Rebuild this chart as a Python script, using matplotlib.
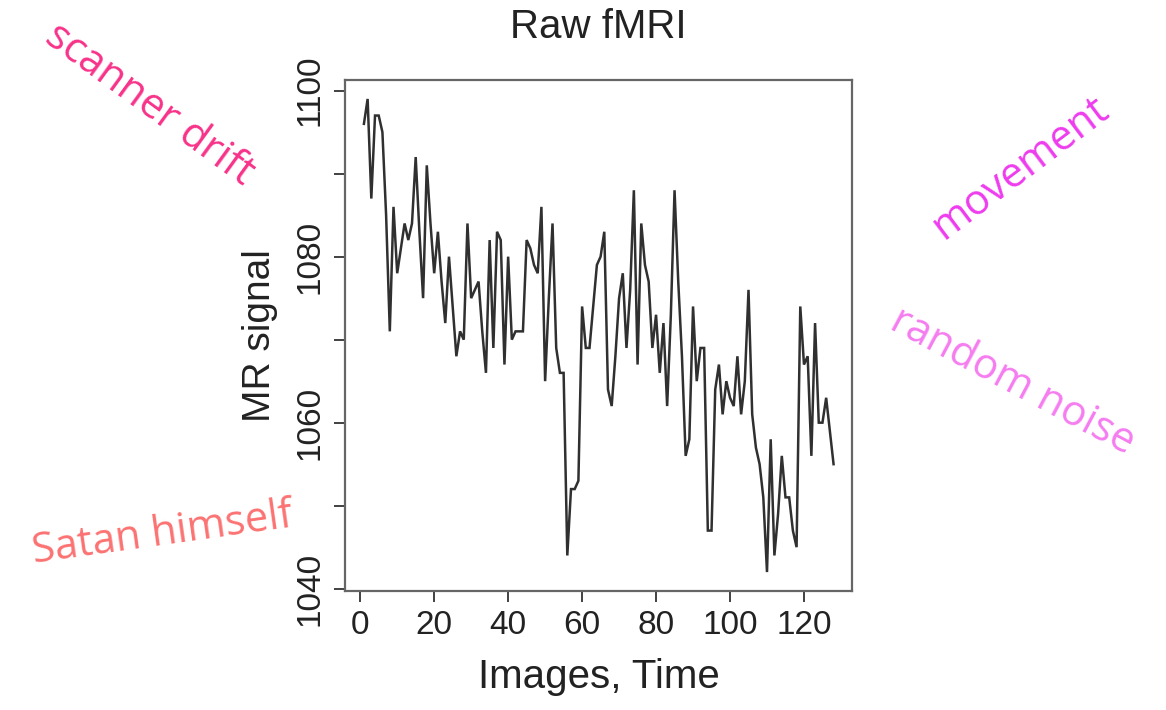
import numpy as np
import matplotlib
matplotlib.use("Agg")
import matplotlib.pyplot as plt

plt.rcParams['font.family'] = ['Liberation Sans', 'DejaVu Sans']

# Raw fMRI time course of a single voxel (one value per image)
signal = [
    1096, 1099, 1087, 1097, 1097, 1095, 1085, 1071, 1086, 1078,
    1081, 1084, 1082, 1084, 1092, 1083, 1075, 1091, 1084, 1078,
    1083, 1077, 1072, 1080, 1074, 1068, 1071, 1070, 1084, 1075,
    1076, 1077, 1071, 1066, 1082, 1069, 1083, 1082, 1067, 1080,
    1070, 1071, 1071, 1071, 1082, 1081, 1079, 1078, 1086, 1065,
    1075, 1084, 1069, 1066, 1066, 1044, 1052, 1052, 1053, 1074,
    1069, 1069, 1074, 1079, 1080, 1083, 1064, 1062, 1068, 1075,
    1078, 1069, 1076, 1088, 1067, 1084, 1079, 1077, 1069, 1073,
    1066, 1072, 1062, 1073, 1088, 1077, 1068, 1056, 1058, 1074,
    1065, 1069, 1069, 1047, 1047, 1064, 1067, 1061, 1065, 1063,
    1062, 1068, 1061, 1065, 1076, 1061, 1057, 1055, 1051, 1042,
    1058, 1044, 1049, 1056, 1051, 1051, 1047, 1045, 1074, 1067,
    1068, 1056, 1072, 1060, 1060, 1063, 1059, 1055,
]
images = np.arange(1, len(signal) + 1)

x_ticks = [0, 20, 40, 60, 80, 100, 120]
y_ticks_minor = [1040, 1050, 1060, 1070, 1080, 1090, 1100]
y_tick_labels = [1040, 1060, 1080, 1100]

title = "Raw fMRI"
x_label = "Images, Time"
y_label = "MR signal"

# Candidate noise sources written around the plot
notes = ["scanner drift", "movement", "random noise", "Satan himself"]
note_colors = ["#f7338a", "#ee3cee", "#f57cf0", "#fb7272"]
note_xy = [(0.128, 0.852), (0.875, 0.763), (0.868, 0.462), (0.139, 0.248)]
note_rot = [-36, 37, -28, 8]
note_size = [30, 30, 30, 30]

fig = plt.figure(figsize=(11.66, 7.10), dpi=100)
ax = fig.add_axes([0.296, 0.1676, 0.435, 0.7197])

ax.plot(images, signal, color="#303030", lw=1.8, solid_joinstyle="miter")

# R-style 4% padding around the data range
def padded(lo, hi, frac=0.04):
    r = hi - lo
    return lo - frac * r, hi + frac * r

ax.set_xlim(*padded(images.min(), images.max()))
ax.set_ylim(*padded(min(signal), max(signal)))

ax.set_xticks(x_ticks)
ax.set_xticklabels([str(v) for v in x_ticks])
ax.set_yticks(y_ticks_minor)
ax.set_yticklabels([str(v) if v in y_tick_labels else "" for v in y_ticks_minor],
                   rotation=90, va="center")

ax.tick_params(direction="out", length=8, width=1.3, color="#333333",
               labelsize=24, labelcolor="#222222", pad=6)
for s in ax.spines.values():
    s.set_color("#666666")
    s.set_linewidth(1.6)

ax.set_title(title, fontsize=29, color="#222222", pad=30)
ax.set_xlabel(x_label, fontsize=29, color="#222222", labelpad=12)
ax.set_ylabel(y_label, fontsize=28, color="#222222", labelpad=12)

for txt, col, (fx, fy), rot, sz in zip(notes, note_colors, note_xy, note_rot, note_size):
    fig.text(fx, fy, txt, color=col, fontsize=sz, rotation=rot,
             rotation_mode="anchor", ha="center", va="center",
             family=["Open Sans", "DejaVu Sans"])

fig.savefig("out.png", dpi=100)
